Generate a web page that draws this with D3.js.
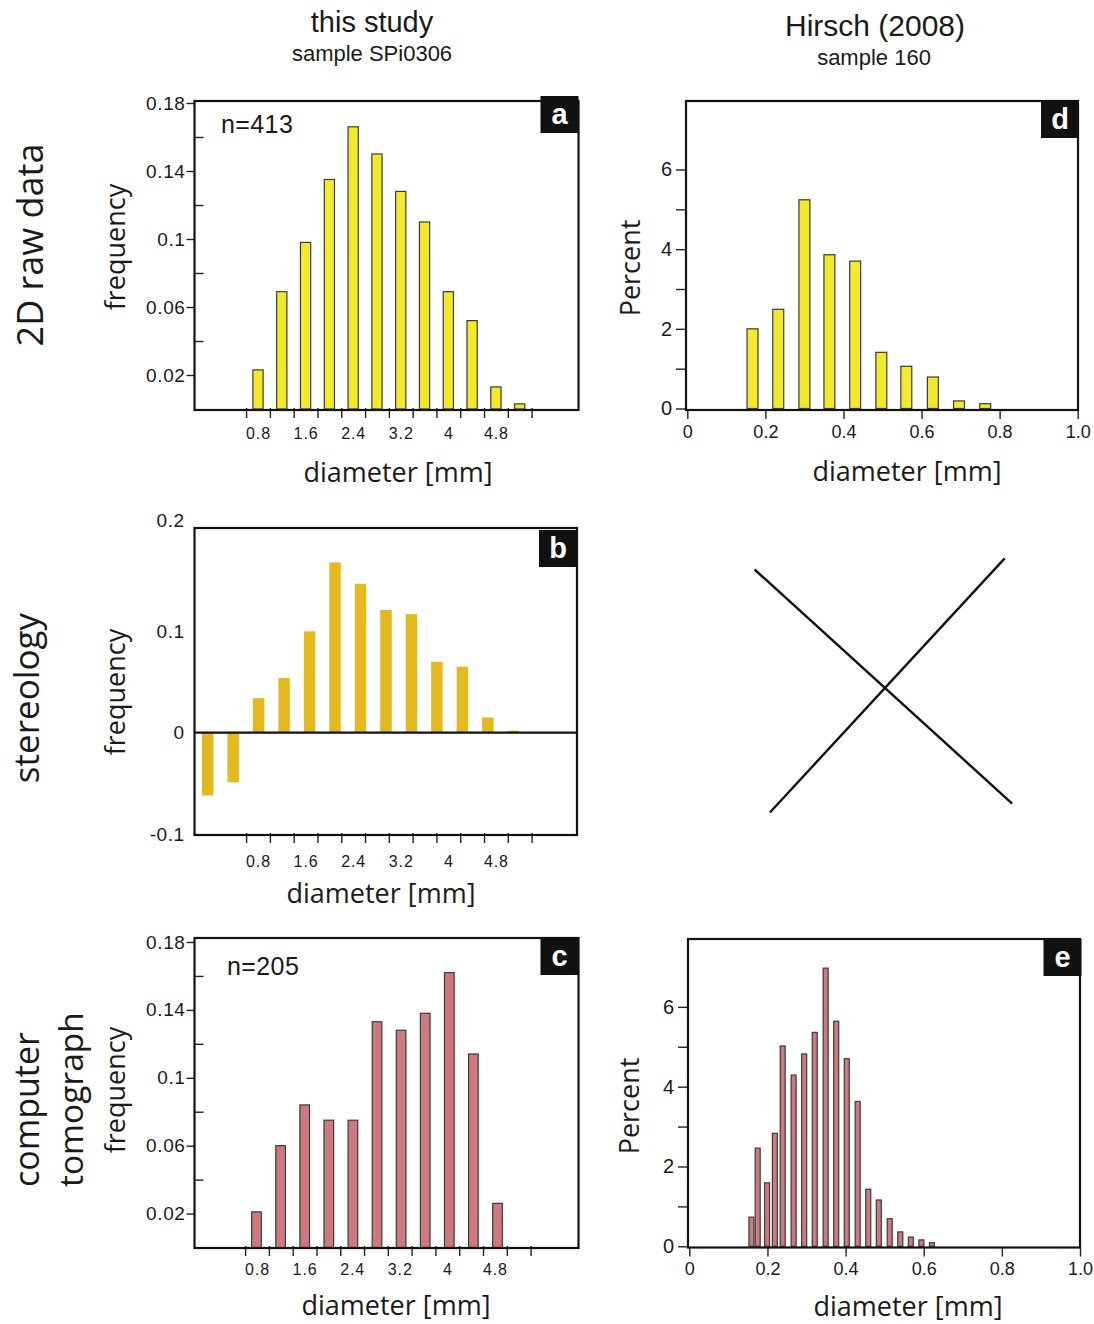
<!DOCTYPE html>
<html>
<head>
<meta charset="utf-8">
<script src="https://cdn.jsdelivr.net/npm/d3@7"></script>
<style>
  html, body { margin: 0; padding: 0; background: #fff; }
  svg { display: block; }
</style>
</head>
<body>
<svg id="fig" width="1094" height="1324"></svg>
<script>
// ---------------- data ----------------
// this study, sample SPi0306 — 2D raw section data (bin centres in mm, frequency)
const rawBins = [0.8, 1.2, 1.6, 2.0, 2.4, 2.8, 3.2, 3.6, 4.0, 4.4, 4.8, 5.2];
const rawFreq = [0.023, 0.069, 0.098, 0.135, 0.166, 0.150, 0.128, 0.110, 0.069, 0.052, 0.013, 0.003];

// stereological correction of the same sample
const stereoBins = [0.0, 0.4, 0.8, 1.2, 1.6, 2.0, 2.4, 2.8, 3.2, 3.6, 4.0, 4.4, 4.8];
const stereoFreq = [-0.062, -0.049, 0.034, 0.054, 0.100, 0.168, 0.147, 0.121, 0.117, 0.070, 0.065, 0.015, 0.002];

// computer tomography of the same sample
const ctBins = [0.8, 1.2, 1.6, 2.0, 2.4, 2.8, 3.2, 3.6, 4.0, 4.4, 4.8];
const ctFreq = [0.021, 0.060, 0.084, 0.075, 0.075, 0.133, 0.128, 0.138, 0.162, 0.114, 0.026];

// Hirsch (2008), sample 160 — 2D raw data (mm, percent)
const hirschRawBins = [0.167, 0.233, 0.300, 0.364, 0.430, 0.497, 0.561, 0.629, 0.696, 0.763];
const hirschRawPct  = [2.00, 2.49, 5.24, 3.86, 3.70, 1.41, 1.06, 0.79, 0.19, 0.12];

// Hirsch (2008), sample 160 — computer tomography (mm, percent)
const hirschCtBins = [0.159, 0.175, 0.199, 0.219, 0.239, 0.267, 0.294, 0.321, 0.349, 0.376,
                      0.403, 0.431, 0.458, 0.485, 0.513, 0.540, 0.567, 0.594, 0.621];
const hirschCtPct  = [0.73, 2.46, 1.59, 2.83, 5.02, 4.29, 4.82, 5.36, 6.97, 5.64,
                      4.70, 3.63, 1.43, 1.16, 0.69, 0.36, 0.23, 0.16, 0.09];

// axis ticks
const mmLabels    = [0.8, 1.6, 2.4, 3.2, 4, 4.8];
const mmEdges     = [0.6, 1.0, 1.4, 1.8, 2.2, 2.6, 3.0, 3.4, 3.8, 4.2, 4.6, 5.0, 5.4];
const freqMajor   = [0.02, 0.06, 0.1, 0.14, 0.18];
const freqMinor   = [0.04, 0.08, 0.12, 0.16];
const stereoTicks = [-0.1, 0, 0.1, 0.2];
const pctMajor    = [0, 2, 4, 6];
const pctMinor    = [1, 3, 5];
const hirschMm    = [0, 0.2, 0.4, 0.6, 0.8, 1.0];

// ---------------- styles ----------------
const YELLOW = "#f2e92b";
const GOLD   = "#e3b91f";
const ROSE   = "#cc7a7f";
const BAR_STROKE = "#3a3a3a";
const TICK_FONT  = "'Liberation Sans', Arial, sans-serif";
const TITLE_FONT = "'Open Sans', 'Noto Sans', sans-serif";

const svg = d3.select("#fig");
svg.append("rect").attr("width", 1094).attr("height", 1324).attr("fill", "#fff");

// ---------------- helpers ----------------
function frame(g, x0, y0, x1, y1) {
  g.append("rect")
    .attr("x", x0).attr("y", y0)
    .attr("width", x1 - x0).attr("height", y1 - y0)
    .attr("fill", "none").attr("stroke", "#111").attr("stroke-width", 2.2);
}

function panelLetter(g, xRight, yTop, letter) {
  g.append("rect").attr("x", xRight - 38).attr("y", yTop)
    .attr("width", 38).attr("height", 37).attr("fill", "#111");
  g.append("text").attr("x", xRight - 19).attr("y", yTop + 28)
    .attr("text-anchor", "middle")
    .attr("font-family", TICK_FONT).attr("font-weight", "bold")
    .attr("font-size", 29).attr("fill", "#fff").text(letter);
}

function styleAxis(sel, fontSize, spacing) {
  sel.select(".domain").remove();
  sel.selectAll(".tick line").attr("stroke", "#222").attr("stroke-width", 1.4);
  sel.selectAll(".tick text")
    .attr("font-family", TICK_FONT).attr("font-size", fontSize)
    .attr("fill", "#1a1a1a")
    .style("letter-spacing", (spacing || 0) + "px");
}

function xTitle(g, cx, baseline, text) {
  g.append("text").attr("x", cx).attr("y", baseline)
    .attr("text-anchor", "middle")
    .attr("font-family", TITLE_FONT).attr("font-size", 27)
    .attr("fill", "#1a1a1a").text(text);
}

function yTitle(g, bx, cy, text, size) {
  g.append("text")
    .attr("transform", `translate(${bx},${cy}) rotate(-90)`)
    .attr("text-anchor", "middle")
    .attr("font-family", TITLE_FONT).attr("font-size", size || 27)
    .attr("fill", "#1a1a1a").text(text);
}

function bars(g, bins, vals, x, y, width, fill, stroke) {
  g.selectAll(null).data(bins.map((b, i) => ({ b, v: vals[i] })))
    .join("rect")
    .attr("x", d => x(d.b) - width / 2)
    .attr("y", d => Math.min(y(d.v), y(0)))
    .attr("width", width)
    .attr("height", d => Math.abs(y(d.v) - y(0)))
    .attr("fill", fill)
    .attr("stroke", stroke || "none")
    .attr("stroke-width", stroke ? 1.2 : 0);
}

// the shared mm axis of the left column (bin edges as ticks, every other bin labelled)
function mmAxis(g, x, yBase, labelY) {
  const t = g.append("g").attr("transform", `translate(0,${yBase - 2})`)
    .call(d3.axisBottom(x).tickValues(mmEdges).tickFormat("").tickSizeInner(10).tickSizeOuter(0));
  styleAxis(t, 16);
  const l = g.append("g").attr("transform", `translate(0,${labelY})`)
    .call(d3.axisBottom(x).tickValues(mmLabels).tickFormat(d => String(d)).tickSize(0).tickPadding(0));
  styleAxis(l, 16, 0.9);
  l.selectAll(".tick text").attr("dy", "0.35em");
}

function freqYAxis(g, y, x0) {
  const major = g.append("g").attr("transform", `translate(${x0},0)`)
    .call(d3.axisLeft(y).tickValues(freqMajor).tickFormat(d => String(d)).tickSizeInner(8).tickSizeOuter(0).tickPadding(1));
  styleAxis(major, 19, 0.6);
  const minor = g.append("g").attr("transform", `translate(${x0},0)`)
    .call(d3.axisRight(y).tickValues(freqMinor).tickFormat("").tickSizeInner(9).tickSizeOuter(0));
  styleAxis(minor, 19);
}

function pctYAxis(g, y, x0) {
  const major = g.append("g").attr("transform", `translate(${x0},0)`)
    .call(d3.axisLeft(y).tickValues(pctMajor).tickFormat(d => String(d)).tickSizeInner(10).tickSizeOuter(0).tickPadding(4));
  styleAxis(major, 20);
  const minor = g.append("g").attr("transform", `translate(${x0},0)`)
    .call(d3.axisLeft(y).tickValues(pctMinor).tickFormat("").tickSizeInner(10).tickSizeOuter(0));
  styleAxis(minor, 20);
}

function hirschXAxis(g, x, yBase) {
  const a = g.append("g").attr("transform", `translate(0,${yBase})`)
    .call(d3.axisBottom(x).tickValues(hirschMm)
      .tickFormat(d => d === 0 ? "0" : d.toFixed(1))
      .tickSizeInner(9).tickSizeOuter(0).tickPadding(6));
  styleAxis(a, 18);
}

// ---------------- column headers ----------------
const hdr = svg.append("g").attr("font-family", TICK_FONT).attr("fill", "#1a1a1a").attr("text-anchor", "middle");
hdr.append("text").attr("x", 372).attr("y", 32).attr("font-size", 29).text("this study");
hdr.append("text").attr("x", 372).attr("y", 61).attr("font-size", 22).text("sample SPi0306");
hdr.append("text").attr("x", 875).attr("y", 36).attr("font-size", 30).text("Hirsch (2008)");
hdr.append("text").attr("x", 874).attr("y", 65).attr("font-size", 22).text("sample 160");

// ---------------- row labels ----------------
yTitle(svg, 43, 245, "2D raw data", 36);
yTitle(svg, 39, 698, "stereology", 35);
svg.append("text").attr("transform", "translate(39,1187) rotate(-90)")
  .attr("font-family", TITLE_FONT).attr("font-size", 34).attr("fill", "#1a1a1a").text("computer");
svg.append("text").attr("transform", "translate(83,1187) rotate(-90)")
  .attr("font-family", TITLE_FONT).attr("font-size", 33.5).attr("fill", "#1a1a1a").text("tomograph");

// ---------------- panel a: 2D raw data ----------------
{
  const g = svg.append("g");
  const x = d3.scaleLinear().domain([0.8, 5.2]).range([258, 519.7]);
  const y = d3.scaleLinear().domain([0, 0.18]).range([409, 103]);
  const bw = (x(0.4) - x(0)) * 0.43;
  bars(g, rawBins, rawFreq, x, y, bw, YELLOW, BAR_STROKE);
  freqYAxis(g, y, 194.5);
  mmAxis(g, x, 410, 433);
  frame(g, 194.5, 101, 578.5, 410);
  panelLetter(g, 578.5, 96, "a");
  g.append("text").attr("x", 221).attr("y", 133)
    .attr("font-family", TICK_FONT).attr("font-size", 25).style("letter-spacing", "0.4px")
    .attr("fill", "#1a1a1a").text("n=413");
  yTitle(g, 125, 247, "frequency");
  xTitle(g, 398, 482, "diameter [mm]");
}

// ---------------- panel b: stereology ----------------
{
  const g = svg.append("g");
  const xAxisScale = d3.scaleLinear().domain([0.8, 5.2]).range([258, 519.7]);
  const x = d3.scaleLinear().domain([0, 4.8]).range([207.7, 513.3]);
  const y = d3.scaleLinear().domain([-0.1, 0.2]).range([834, 530]);
  const bw = (x(0.4) - x(0)) * 0.45;
  bars(g, stereoBins, stereoFreq, x, y, bw, GOLD);
  g.append("line").attr("x1", 194.5).attr("x2", 577).attr("y1", y(0)).attr("y2", y(0))
    .attr("stroke", "#111").attr("stroke-width", 2.2);
  const ya = g.append("g").attr("transform", "translate(194.5,0)")
    .call(d3.axisLeft(y).tickValues(stereoTicks).tickFormat(d => String(d)).tickSize(0).tickPadding(10));
  styleAxis(ya, 19, 0.5);
  // the top label sits a little above the frame corner
  ya.selectAll(".tick").filter(d => d === 0.2).select("text").attr("dy", "-0.2em");
  mmAxis(g, xAxisScale, 835, 861);
  frame(g, 194.5, 528, 577, 835);
  panelLetter(g, 577, 530, "b");
  yTitle(g, 125, 692, "frequency");
  xTitle(g, 381, 903, "diameter [mm]");
}

// ---------------- panel c: computer tomography ----------------
{
  const g = svg.append("g");
  const x = d3.scaleLinear().domain([0.8, 4.8]).range([256.5, 497.5]);
  const y = d3.scaleLinear().domain([0, 0.18]).range([1247.5, 942]);
  const bw = (x(0.4) - x(0)) * 0.40;
  bars(g, ctBins, ctFreq, x, y, bw, ROSE, BAR_STROKE);
  freqYAxis(g, y, 194.5);
  mmAxis(g, d3.scaleLinear().domain([0.8, 5.2]).range([257, 518.7]), 1248, 1269);
  frame(g, 194.5, 938, 578.5, 1248);
  panelLetter(g, 578.5, 938, "c");
  g.append("text").attr("x", 227).attr("y", 975)
    .attr("font-family", TICK_FONT).attr("font-size", 25).style("letter-spacing", "0.4px")
    .attr("fill", "#1a1a1a").text("n=205");
  yTitle(g, 125, 1090, "frequency");
  xTitle(g, 396, 1315, "diameter [mm]");
}

// ---------------- panel d: Hirsch 2D raw data ----------------
{
  const g = svg.append("g");
  const x = d3.scaleLinear().domain([0, 1]).range([687.3, 1077.7]);
  const y = d3.scaleLinear().domain([0, 7.72]).range([408.5, 101]);
  const bw = (x(0.0667) - x(0)) * 0.42;
  bars(g, hirschRawBins, hirschRawPct, x, y, bw, YELLOW, BAR_STROKE);
  pctYAxis(g, y, 686);
  hirschXAxis(g, x, 410);
  frame(g, 686, 101, 1078, 410);
  panelLetter(g, 1079, 101, "d");
  yTitle(g, 640, 268, "Percent");
  xTitle(g, 907, 481, "diameter [mm]");
}

// ---------------- empty slot: no stereology for Hirsch (2008) ----------------
{
  const slot = { x0: 686, y0: 527, x1: 1078, y1: 835 };
  const sx = d3.scaleLinear().domain([0, 1]).range([slot.x0, slot.x1]);
  const sy = d3.scaleLinear().domain([0, 1]).range([slot.y0, slot.y1]);
  const strokes = [
    [[0.175, 0.138], [0.832, 0.898]],
    [[0.813, 0.102], [0.214, 0.927]]
  ];
  svg.selectAll(null).data(strokes).join("line")
    .attr("x1", d => sx(d[0][0])).attr("y1", d => sy(d[0][1]))
    .attr("x2", d => sx(d[1][0])).attr("y2", d => sy(d[1][1]))
    .attr("stroke", "#111").attr("stroke-width", 2.4);
}

// ---------------- panel e: Hirsch computer tomography ----------------
{
  const g = svg.append("g");
  const x = d3.scaleLinear().domain([0, 1]).range([689.3, 1080]);
  const y = d3.scaleLinear().domain([0, 7.7]).range([1246.3, 939]);
  const bw = (x(0.0272) - x(0)) * 0.47;
  bars(g, hirschCtBins, hirschCtPct, x, y, bw, ROSE, BAR_STROKE);
  pctYAxis(g, y, 688);
  hirschXAxis(g, x, 1247.5);
  frame(g, 688, 939, 1080, 1247.5);
  panelLetter(g, 1081.5, 939, "e");
  yTitle(g, 639, 1106, "Percent");
  xTitle(g, 908, 1316, "diameter [mm]");
}
</script>
</body>
</html>
